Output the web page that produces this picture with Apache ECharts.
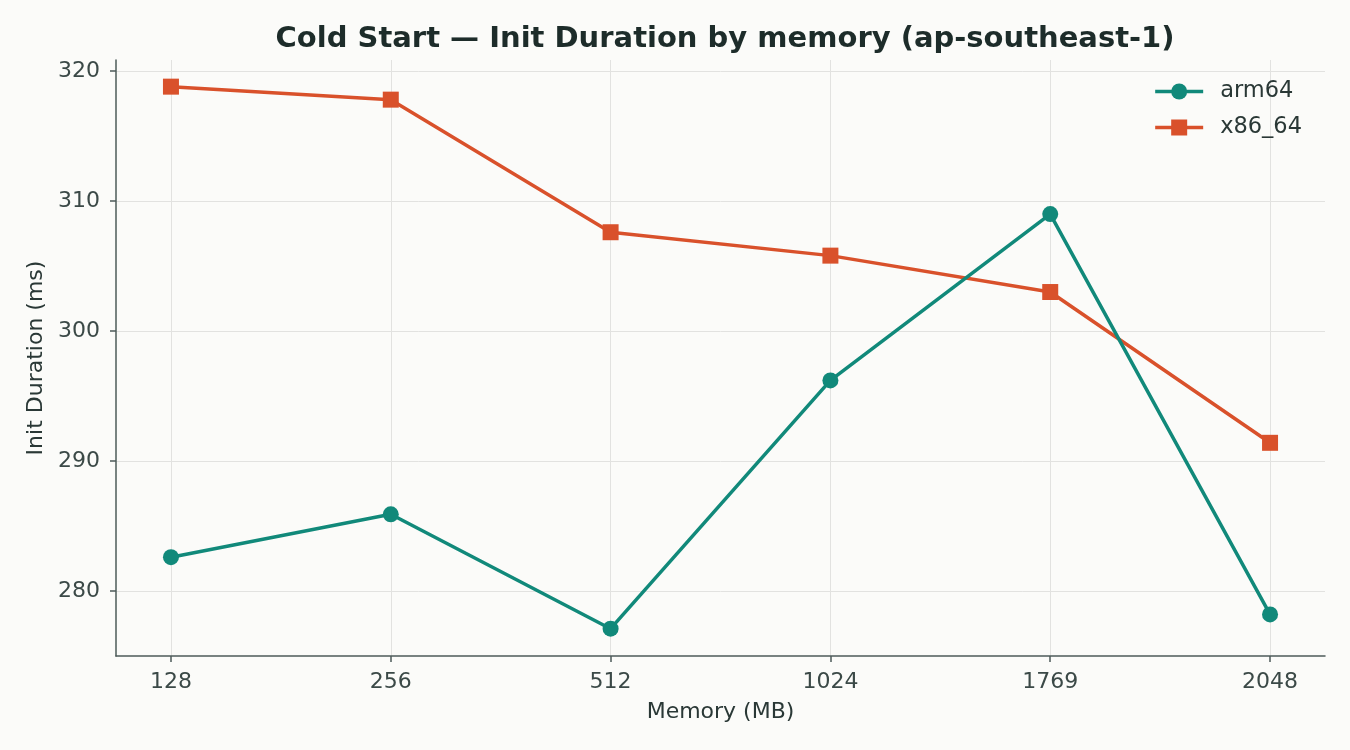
<!DOCTYPE html>
<html>
<head>
<meta charset="utf-8">
<script src="https://cdn.jsdelivr.net/npm/echarts@6/dist/echarts.min.js"></script>
<style>
  html, body { margin: 0; padding: 0; background: #fbfbf9; }
  #chart { width: 1350px; height: 750px; }
</style>
</head>
<body>
<div id="chart"></div>
<script>
const memory = ["128", "256", "512", "1024", "1769", "2048"];
const arm64 = [282.6, 285.9, 277.1, 296.2, 309.0, 278.2];
const x86_64 = [318.8, 317.8, 307.6, 305.8, 303.0, 291.4];
const yTicks = [280, 290, 300, 310, 320];

const textColor = "#3b4947";
const axisColor = "#4d5b59";
const gridColor = "#e2e2e0";
const font = "DejaVu Sans";

const chart = echarts.init(document.getElementById("chart"), null, {
  renderer: "canvas",
});

const option = {
  backgroundColor: "#fbfbf9",
  animation: false,
  textStyle: { fontFamily: font },
  title: {
    text: "Cold Start — Init Duration by memory (ap-southeast-1)",
    left: 720,
    top: 20,
    textAlign: "center",
    textStyle: {
      fontFamily: font,
      fontSize: 29,
      fontWeight: "bold",
      color: "#1d2c2a",
    },
  },
  legend: {
    orient: "vertical",
    right: 43,
    top: 75,
    itemWidth: 48,
    itemHeight: 20,
    itemGap: 13,
    lineStyle: { width: 3.5 },
    textStyle: { fontFamily: font, fontSize: 22.5, color: "#2a3836", padding: [0, 0, 0, 12] },
    data: ["arm64", "x86_64"],
  },
  grid: {
    left: 116,
    right: 25,
    top: 60,
    bottom: 94,
  },
  xAxis: {
    type: "value",
    min: -0.25,
    max: 5.25,
    name: "Memory (MB)",
    nameLocation: "middle",
    nameGap: 45,
    nameTextStyle: { fontFamily: font, fontSize: 22, color: "#2a3836" },
    axisLine: { onZero: false, lineStyle: { color: axisColor, width: 1.5 } },
    axisTick: {
      length: 6,
      customValues: [0, 1, 2, 3, 4, 5],
      lineStyle: { color: axisColor, width: 1.5 },
    },
    axisLabel: {
      customValues: [0, 1, 2, 3, 4, 5],
      formatter: (v) => memory[Math.round(v)],
      margin: 15,
      fontFamily: font,
      fontSize: 22,
      color: textColor,
    },
    splitLine: { show: true, lineStyle: { color: gridColor, width: 1 } },
  },
  yAxis: {
    type: "value",
    min: 275,
    max: 320.85,
    name: "Init Duration (ms)",
    nameLocation: "middle",
    nameGap: 68,
    nameTextStyle: { fontFamily: font, fontSize: 22, color: "#2a3836" },
    axisLine: { show: true, onZero: false, lineStyle: { color: axisColor, width: 1.5 } },
    axisTick: {
      show: true,
      length: 6,
      customValues: yTicks,
      lineStyle: { color: axisColor, width: 1.5 },
    },
    axisLabel: {
      customValues: yTicks,
      margin: 16,
      fontFamily: font,
      fontSize: 22,
      color: textColor,
    },
    splitLine: { show: true, lineStyle: { color: gridColor, width: 1 } },
  },
  series: [
    {
      name: "arm64",
      type: "line",
      data: arm64.map((v, i) => [i, v]),
      symbol: "circle",
      symbolSize: 16,
      color: "#11897a",
      lineStyle: { width: 3.5, color: "#11897a" },
      itemStyle: { color: "#11897a" },
      z: 3,
    },
    {
      name: "x86_64",
      type: "line",
      data: x86_64.map((v, i) => [i, v]),
      symbol: "rect",
      symbolSize: 16,
      color: "#d9512b",
      lineStyle: { width: 3.5, color: "#d9512b" },
      itemStyle: { color: "#d9512b" },
      z: 2,
    },
  ],
};
chart.setOption(option);
</script>
</body>
</html>
